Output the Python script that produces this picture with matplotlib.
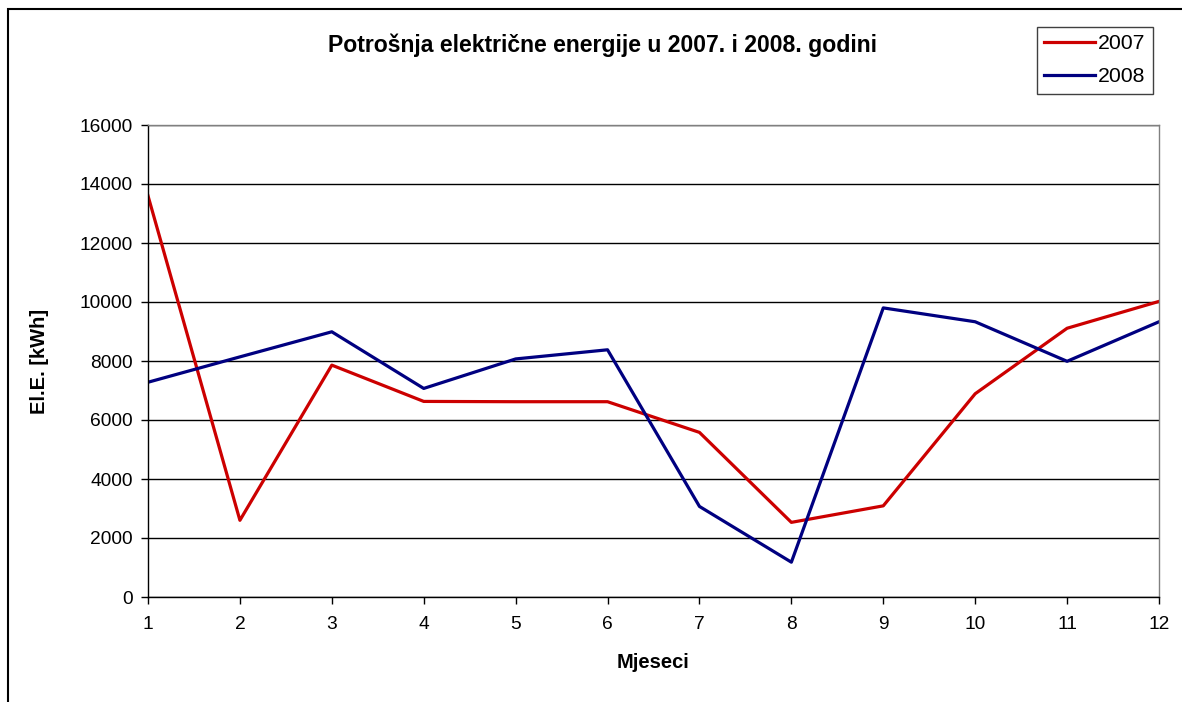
import matplotlib
matplotlib.use("Agg")
import matplotlib.pyplot as plt
from matplotlib.patches import Rectangle

# Podaci: potrosnja el. energije po mjesecima (kWh)
mjeseci = [1, 2, 3, 4, 5, 6, 7, 8, 9, 10, 11, 12]
god_2007 = [13600, 2600, 7860, 6630, 6620, 6620, 5580, 2530, 3090, 6890, 9110, 10020]
god_2008 = [7280, 8140, 8990, 7070, 8070, 8380, 3070, 1180, 9800, 9330, 7990, 9330]
y_ticks = [0, 2000, 4000, 6000, 8000, 10000, 12000, 14000, 16000]

plt.rcParams['font.family'] = ['Liberation Sans', 'DejaVu Sans']

fig = plt.figure(figsize=(11.82, 7.02), dpi=100)
ax = fig.add_axes([148/1182, 105/702, 1011/1182, 472/702])

ax.plot(mjeseci, god_2007, color='#CC0000', lw=2.3, label='2007')
ax.plot(mjeseci, god_2008, color='#000080', lw=2.3, label='2008')

ax.set_xlim(1, 12)
ax.set_ylim(0, 16000)
ax.set_xticks(mjeseci)
ax.set_yticks(y_ticks)
ax.yaxis.grid(True, color='#000000', lw=1)
ax.set_axisbelow(True)

ax.spines['top'].set_color('#808080')
ax.spines['right'].set_color('#808080')
ax.spines['left'].set_color('black')
ax.spines['bottom'].set_color('black')
for s in ax.spines.values():
    s.set_linewidth(1)
ax.tick_params(axis='both', direction='out', length=5, width=1, labelsize=13.8)
ax.tick_params(axis='x', pad=9)
ax.tick_params(axis='y', pad=6)

ax.set_xlabel('Mjeseci', fontsize=14.5, fontweight='bold', labelpad=14)
ax.set_ylabel('El.E. [kWh]', fontsize=14.5, fontweight='bold', labelpad=22)

fig.text(602/1182, 1 - 45/702, 'Potrošnja električne energije u 2007. i 2008. godini',
         ha='center', va='center', fontsize=16.6, fontweight='bold')

leg = fig.legend(loc='upper left', bbox_to_anchor=(1037/1182, 1 - 27/702),
                 fontsize=15.3, frameon=True, fancybox=False, framealpha=1,
                 edgecolor='#404040', handlelength=2.4, handletextpad=0.1,
                 borderpad=0.35, labelspacing=0.65, borderaxespad=0)
leg.get_frame().set_linewidth(1)

# okvir grafikona
fig.patches.append(Rectangle((8/1182, -0.1), 1.2, 1 - 9/702 + 0.1, transform=fig.transFigure,
                             fill=False, edgecolor='black', lw=1.5))

fig.savefig('out.png', dpi=100)
